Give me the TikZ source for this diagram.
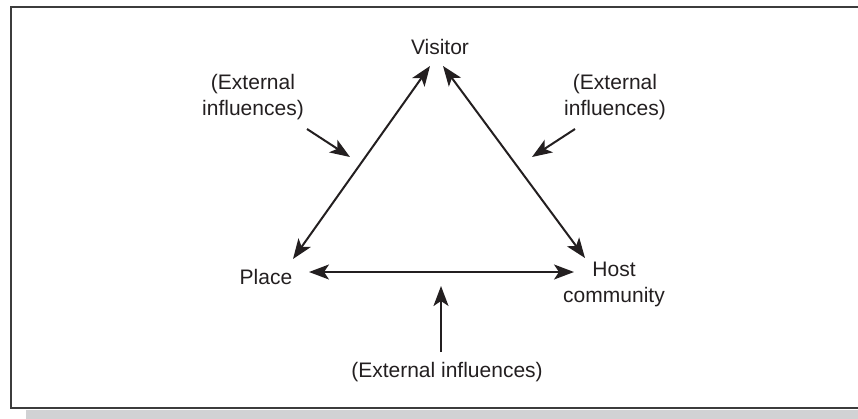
\documentclass[tikz,border=0pt]{standalone}
\usepackage{fontspec}
\setmainfont{Liberation Sans}
\usetikzlibrary{arrows.meta}
\definecolor{ink}{HTML}{231F20}
\definecolor{framegray}{HTML}{3C3C3C}
\definecolor{shadowgray}{HTML}{D1D2D4}
\tikzset{
  lbl/.style={text=ink, font=\fontsize{21}{26}\selectfont, align=center, inner sep=0pt},
  link/.style={draw=ink, line width=2pt, {Stealth[length=20pt,width=15pt,inset=5pt]}-{Stealth[length=20pt,width=15pt,inset=5pt]}},
  infl/.style={draw=ink, line width=2pt, -{Stealth[length=20pt,width=15pt,inset=5pt]}}
}
\begin{document}
\begin{tikzpicture}[x=1pt,y=-1pt]
\path[use as bounding box] (0,0) rectangle (858,418);
% shadow and frame
\fill[shadowgray] (26,409.5) rectangle (870,420);
\draw[framegray, line width=1.6pt] (870,7) -- (11,7) -- (11,408) -- (870,408);
% labels
\node[lbl] (visitor) at (440,47) {Visitor};
\node[lbl] (place) at (266,277) {Place};
\node[lbl] (host) at (614,284.5) {Host\\community};
\node[lbl] (extL) at (253,97) {(External\\influences)};
\node[lbl] (extR) at (615,97) {(External\\influences)};
\node[lbl] (extB) at (447,372) {(External influences)};
% connector ends
\coordinate (vL) at (430,66);
\coordinate (vR) at (443,66);
\coordinate (pT) at (293,259);
\coordinate (pR) at (309,272);
\coordinate (hT) at (585,258);
\coordinate (hL) at (574,272);
\coordinate (iL0) at (307,129);
\coordinate (iL1) at (350,157);
\coordinate (iR0) at (575,129);
\coordinate (iR1) at (532,157);
\coordinate (iB0) at (441,352);
\coordinate (iB1) at (441,286);
% connectors
\draw[link] (pT) -- (vL);
\draw[link] (vR) -- (hT);
\draw[link] (pR) -- (hL);
\draw[infl] (iL0) -- (iL1);
\draw[infl] (iR0) -- (iR1);
\draw[infl] (iB0) -- (iB1);
\end{tikzpicture}
\end{document}
